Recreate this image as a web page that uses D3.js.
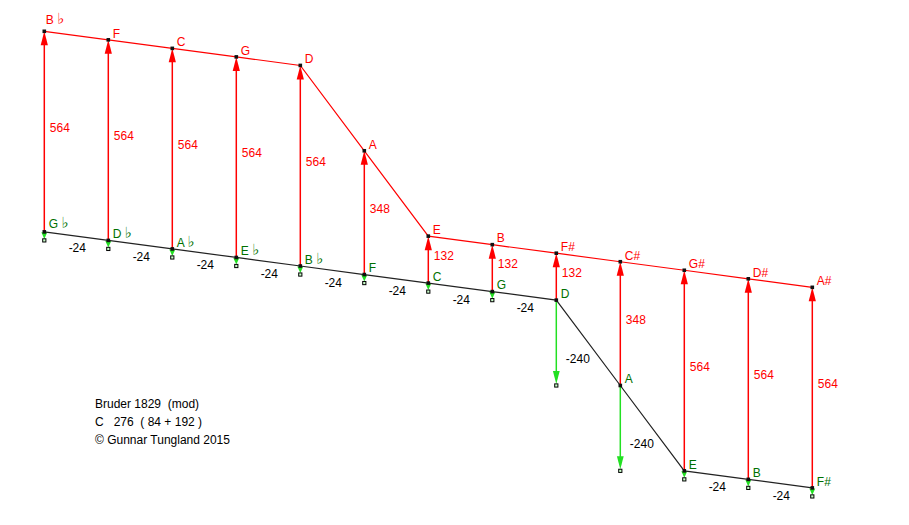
<!DOCTYPE html>
<html>
<head>
<meta charset="utf-8">
<script src="https://cdn.jsdelivr.net/npm/d3@7"></script>
<style>
  html, body { margin: 0; padding: 0; background: #fff; }
  svg { display: block; font-family: "Liberation Sans", Arial, sans-serif; }
</style>
</head>
<body>
<svg id="chart" width="909" height="525"></svg>
<script>
// ---- data ----
const lowerNotes = ["G \u266D", "D \u266D", "A \u266D", "E \u266D", "B \u266D", "F", "C", "G", "D", "A", "E", "B", "F#"];
const upperNotes = ["B \u266D", "F", "C", "G", "D", "A", "E", "B", "F#", "C#", "G#", "D#", "A#"];
// deviation step of the fifth leaving each lower note (last one shown as a stub)
const fifthSteps = [-24, -24, -24, -24, -24, -24, -24, -24, -240, -240, -24, -24, -24];
// major-third values drawn as red arrows above each lower note
const thirdValues = [564, 564, 564, 564, 564, 348, 132, 132, 132, 348, 564, 564, 564];
const footnoteLines = ["Bruder 1829  (mod)", "C   276  ( 84 + 192 )", "\u00A9 Gunnar Tungland 2015"];

// ---- derived values ----
const lowerValues = [];
fifthSteps.reduce((acc, s) => { lowerValues.push(acc); return acc + s; }, 0);
const upperValues = lowerValues.map((v, i) => v + thirdValues[i]);
const idx = d3.range(lowerNotes.length);

const svg = d3.select("#chart");
svg.append("rect").attr("width", 909).attr("height", 525).attr("fill", "#fff");

const x = d3.scaleLinear().domain([0, lowerNotes.length - 1]).range([44.3, 812.3]);
const y = d3.scaleLinear().domain([-720, 564]).range([487.9, 31.3]);

const RED = "#ff0000", GREEN = "#22e022", DKGREEN = "#007000";

function noteText(sel, color) {
  sel.each(function (d) {
    const t = d3.select(this);
    const s = d.label;
    const k = s.indexOf("\u266D");
    if (k < 0) { t.text(s); return; }
    t.text(s.slice(0, k));
    t.append("tspan")
      .attr("font-family", "'DejaVu Sans'")
      .attr("font-size", 15)
      .attr("fill", color)
      .style("font-variant-emoji", "text")
      .text("\u266D\uFE0E");
  });
}

// red vertical arrows (third)
const gRed = svg.append("g");
gRed.selectAll("line").data(idx).join("line")
  .attr("x1", i => x(i)).attr("x2", i => x(i))
  .attr("y1", i => y(lowerValues[i])).attr("y2", i => y(upperValues[i]) + 6)
  .attr("stroke", RED).attr("stroke-width", 1.5);
gRed.selectAll("path").data(idx).join("path")
  .attr("d", i => {
    const xx = x(i), yt = y(upperValues[i]);
    return `M${xx},${yt} L${xx - 3.6},${yt + 14} L${xx + 3.6},${yt + 14} Z`;
  })
  .attr("fill", RED);
gRed.selectAll("text").data(idx).join("text")
  .attr("x", i => x(i) + 5.5)
  .attr("y", i => (y(lowerValues[i]) + y(upperValues[i])) / 2 - 4 + 4.3)
  .attr("font-size", 12).attr("fill", RED)
  .text(i => thirdValues[i]);

// green arrows (fifth steps)
const gGreen = svg.append("g");
gGreen.selectAll("line").data(idx).join("line")
  .attr("x1", i => x(i)).attr("x2", i => x(i))
  .attr("y1", i => y(lowerValues[i]))
  .attr("y2", i => y(lowerValues[i] + fifthSteps[i]) - 6)
  .attr("stroke", GREEN).attr("stroke-width", 1.5);
gGreen.selectAll("path").data(idx).join("path")
  .attr("d", i => {
    const xx = x(i), y0 = y(lowerValues[i]), yt = y(lowerValues[i] + fifthSteps[i]) - 1.5;
    const len = Math.min(13, yt - y0 - 0.5);
    const hw = Math.min(3.4, Math.max(2.8, len * 0.45));
    return `M${xx},${yt} L${xx - hw},${yt - len} L${xx + hw},${yt - len} Z`;
  })
  .attr("fill", GREEN);
gGreen.selectAll("rect").data(idx).join("rect")
  .attr("x", i => x(i) - 1.6).attr("y", i => y(lowerValues[i] + fifthSteps[i]) - 1.6)
  .attr("width", 3.2).attr("height", 3.2)
  .attr("fill", "#cfc").attr("stroke", "#000").attr("stroke-width", 1);

// polylines
const line = d3.line().x(d => x(d[0])).y(d => y(d[1]));
svg.append("path").attr("d", line(idx.map(i => [i, upperValues[i]])))
  .attr("fill", "none").attr("stroke", RED).attr("stroke-width", 1.2);
svg.append("path").attr("d", line(idx.map(i => [i, lowerValues[i]])))
  .attr("fill", "none").attr("stroke", "#222").attr("stroke-width", 1.2);

// node markers
const gNodes = svg.append("g");
gNodes.selectAll("rect.u").data(idx).join("rect").attr("class", "u")
  .attr("x", i => x(i) - 1.8).attr("y", i => y(upperValues[i]) - 1.8)
  .attr("width", 3.6).attr("height", 3.6).attr("fill", "#111");
gNodes.selectAll("rect.l").data(idx).join("rect").attr("class", "l")
  .attr("x", i => x(i) - 1.8).attr("y", i => y(lowerValues[i]) - 1.8)
  .attr("width", 3.6).attr("height", 3.6).attr("fill", "#111");

// step labels on the lower chain
const segIdx = d3.range(lowerNotes.length - 1);
svg.append("g").selectAll("text").data(segIdx).join("text")
  .attr("x", i => {
    const mx = (x(i) + x(i + 1)) / 2;
    return Math.abs(fifthSteps[i]) > 100 ? mx - 10.5 : mx + 1;
  })
  .attr("y", i => {
    const my = (y(lowerValues[i]) + y(lowerValues[i + 1])) / 2;
    return (Math.abs(fifthSteps[i]) > 100 ? my + 15.7 : my + 12) + 4.3;
  })
  .attr("text-anchor", "middle").attr("font-size", 12).attr("fill", "#000")
  .text(i => fifthSteps[i]);

// note labels
svg.append("g").selectAll("text").data(idx.map(i => ({ i, label: upperNotes[i] }))).join("text")
  .attr("x", d => x(d.i) + (d.i === 0 ? 1.5 : 4.5))
  .attr("y", d => y(upperValues[d.i]) + (d.i === 0 ? -12 : -6.5) + 4.3)
  .attr("font-size", 12).attr("fill", RED)
  .call(noteText, RED);
svg.append("g").selectAll("text").data(idx.map(i => ({ i, label: lowerNotes[i] }))).join("text")
  .attr("x", d => x(d.i) + 4.5)
  .attr("y", d => y(lowerValues[d.i]) + (d.i === 0 ? -8.3 : -6.5) + 4.3)
  .attr("font-size", 12).attr("fill", DKGREEN)
  .call(noteText, DKGREEN);

// footnote
svg.append("g").selectAll("text").data(footnoteLines).join("text")
  .attr("x", 95).attr("y", (d, i) => 404 + i * 18 + 4.3)
  .attr("font-size", 12).attr("fill", "#000")
  .attr("xml:space", "preserve").style("white-space", "pre")
  .text(d => d);
</script>
</body>
</html>
